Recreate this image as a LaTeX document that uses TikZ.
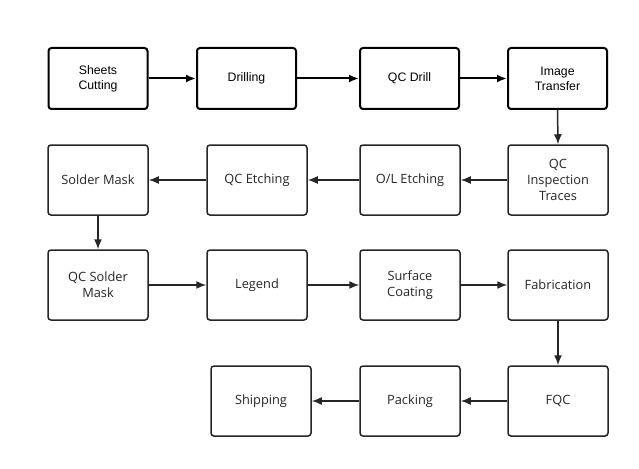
\documentclass[tikz,border=0pt]{standalone}
\usepackage{fontspec}
\setmainfont{Liberation Sans}
\newfontfamily\bodyfont{Open Sans}
\usetikzlibrary{arrows.meta}
\begin{document}
\begin{tikzpicture}[x=1pt,y=-1pt,
  toprow/.style={draw=black,line width=2pt,rounded corners=3pt,minimum width=99pt,minimum height=61pt,align=center,font=\fontsize{12.3}{15}\selectfont,inner sep=0pt},
  boxa/.style={draw=black!85,line width=1.5pt,rounded corners=3pt,minimum width=100pt,minimum height=70pt,align=center,font=\bodyfont\fontsize{12.8}{16}\selectfont,text=black!85,inner sep=0pt},
  arrA/.style={-{Latex[length=10pt,width=8pt]},line width=2pt,black},
  arrB/.style={-{Latex[length=10pt,width=8pt]},line width=1.5pt,black!85}]
\useasboundingbox (0,0) rectangle (639,468);
\fill[white] (0,0) rectangle (639,468);
% row 1
\node[toprow] (sc) at (98,78.5) {Sheets\\Cutting};
\node[toprow] (dr) at (246.5,78.5) {Drilling};
\node[toprow] (qd) at (409.5,78.5) {QC Drill};
\node[toprow] (it) at (557.5,78.5) {Image\\Transfer};
% row 2
\node[boxa] (sm) at (98,180) {Solder Mask};
\node[boxa] (qe) at (257,180) {QC Etching};
\node[boxa] (ol) at (410,180) {O/L Etching};
\node[boxa] (qi) at (558,180) {QC\\Inspection\\Traces};
% row 3
\node[boxa] (qs) at (98,285) {QC Solder\\Mask};
\node[boxa] (lg) at (257,285) {Legend};
\node[boxa] (su) at (410,285) {Surface\\Coating};
\node[boxa] (fb) at (558,285) {Fabrication};
% row 4
\node[boxa] (sh) at (261,401) {Shipping};
\node[boxa] (pk) at (410,401) {Packing};
\node[boxa] (fq) at (558,401) {FQC};
% arrows
\draw[arrA] (sc) -- (dr);
\draw[arrA] (dr) -- (qd);
\draw[arrA] (qd) -- (it);
\draw[arrB] (it.south) -- (qi.north);
\draw[arrB] (qi) -- (ol);
\draw[arrB] (ol) -- (qe);
\draw[arrB] (qe) -- (sm);
\draw[arrB] (sm) -- (qs);
\draw[arrB] (qs) -- (lg);
\draw[arrB] (lg) -- (su);
\draw[arrB] (su) -- (fb);
\draw[arrB] (fb) -- (fq);
\draw[arrB] (fq) -- (pk);
\draw[arrB] (pk) -- (sh);
\end{tikzpicture}
\end{document}
